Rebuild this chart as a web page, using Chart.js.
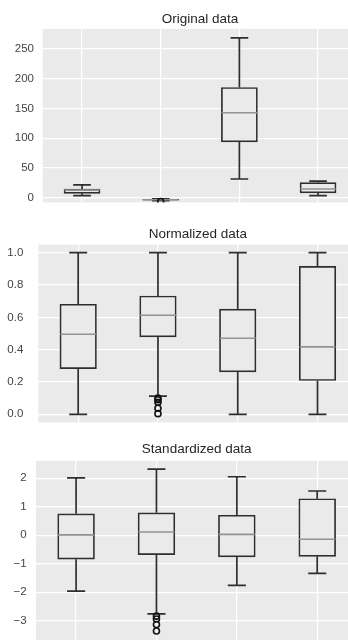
<!DOCTYPE html>
<html>
<head>
<meta charset="utf-8">
<script src="https://cdn.jsdelivr.net/npm/chart.js@4/dist/chart.umd.min.js"></script>
<style>
  html, body { margin: 0; padding: 0; background: #fff; overflow: hidden; }
  #wrap { position: relative; width: 348px; height: 640px; overflow: hidden; }
  #wrap canvas { position: absolute; left: 0; }
</style>
</head>
<body>
<div id="wrap">
  <canvas id="c1" width="363" height="208" style="top:0px"></canvas>
  <canvas id="c2" width="363" height="213" style="top:215px"></canvas>
  <canvas id="c3" width="363" height="221" style="top:425px"></canvas>
</div>
<script>
// ---- data ----
const positions = [1, 2, 3, 4];

const titles = ['Original data', 'Normalized data', 'Standardized data'];

// Original data
const origLow    = [3.8, -4.6, 31.5, 3.8];
const origQ1     = [7.5, -3.9, 93.6, 8.2];
const origMedian = [13.0, -3.2, 142.5, 14.7];
const origQ3     = [14.7, -2.6, 185.0, 25.5];
const origHigh   = [21.7, -1.8, 268.0, 27.8];
const origOutliers = [[], [-6.2], [], []];
const origTicks  = [0, 50, 100, 150, 200, 250];
const origTickLabels = ['0', '50', '100', '150', '200', '250'];

// Normalized data
const normLow    = [0.0, 0.113, 0.0, 0.0];
const normQ1     = [0.283, 0.479, 0.263, 0.209];
const normMedian = [0.495, 0.613, 0.471, 0.417];
const normQ3     = [0.681, 0.732, 0.651, 0.916];
const normHigh   = [1.0, 1.0, 1.0, 1.0];
const normOutliers = [[], [0.100, 0.090, 0.075, 0.038, 0.004], [], []];
const normTicks  = [0, 0.2, 0.4, 0.6, 0.8, 1.0];
const normTickLabels = ['0.0', '0.2', '0.4', '0.6', '0.8', '1.0'];

// Standardized data
const stdLow    = [-1.96, -2.76, -1.76, -1.34];
const stdQ1     = [-0.84, -0.68, -0.76, -0.74];
const stdMedian = [0.01, 0.11, 0.03, -0.14];
const stdQ3     = [0.75, 0.785, 0.70, 1.28];
const stdHigh   = [2.01, 2.32, 2.05, 1.55];
const stdOutliers = [[], [-2.84, -2.94, -3.13, -3.36], [], []];
const stdTicks  = [-3, -2, -1, 0, 1, 2];
const stdTickLabels = ['\u22123', '\u22122', '\u22121', '0', '1', '2'];

// ---- styling ----
const FONT = '"Liberation Sans", Arial, Helvetica, sans-serif';
const BOX_COLOR = '#2e2e2e';
const MEDIAN_COLOR = '#929292';
const BG = '#EAEAEA';

const bgPlugin = {
  id: 'plotBg',
  beforeDraw(chart) {
    const a = chart.chartArea, ctx = chart.ctx;
    ctx.save();
    ctx.fillStyle = BG;
    ctx.fillRect(a.left, a.top, a.right - a.left, a.bottom - a.top);
    ctx.restore();
  }
};

function makePanel(canvasId, spec) {
  const boxHalf = 0.225, capHalf = 0.1125;
  const boxData = positions.map((p, i) => ({ x: p, y: [spec.q1[i], spec.q3[i]] }));
  const whiskerData = [];
  const medianData = [];
  const outlierData = [];
  positions.forEach((p, i) => {
    whiskerData.push({ x: p, y: spec.low[i] }, { x: p, y: spec.q1[i] }, { x: p, y: null });
    whiskerData.push({ x: p, y: spec.q3[i] }, { x: p, y: spec.high[i] }, { x: p, y: null });
    whiskerData.push({ x: p - capHalf, y: spec.low[i] }, { x: p + capHalf, y: spec.low[i] }, { x: p, y: null });
    whiskerData.push({ x: p - capHalf, y: spec.high[i] }, { x: p + capHalf, y: spec.high[i] }, { x: p, y: null });
    medianData.push({ x: p - boxHalf, y: spec.median[i] }, { x: p + boxHalf, y: spec.median[i] }, { x: p, y: null });
    spec.outliers[i].forEach(v => outlierData.push({ x: p, y: v }));
  });

  const spacing = (363 - spec.left) / 4;

  return new Chart(document.getElementById(canvasId), {
    type: 'bar',
    data: {
      datasets: [
        {
          type: 'line', data: whiskerData, borderColor: BOX_COLOR, borderWidth: 1.7,
          pointRadius: 0, spanGaps: false, fill: false, order: 3
        },
        {
          type: 'bar', data: boxData, backgroundColor: BG, borderColor: BOX_COLOR,
          borderWidth: 1.7, borderSkipped: false, barThickness: spacing * 0.45, order: 2
        },
        {
          type: 'line', data: medianData, borderColor: MEDIAN_COLOR, borderWidth: 1.6,
          pointRadius: 0, spanGaps: false, fill: false, order: 1
        },
        {
          type: 'scatter', data: outlierData, pointStyle: 'circle', pointRadius: 3,
          pointBorderWidth: 1.6, pointBorderColor: '#111', pointBackgroundColor: 'rgba(0,0,0,0)', order: 0
        }
      ]
    },
    options: {
      responsive: false,
      animation: false,
      events: [],
      layout: { padding: { left: 0, right: 0, top: 0, bottom: spec.padBottom } },
      plugins: {
        legend: { display: false },
        tooltip: { enabled: false },
        title: {
          display: true, text: spec.title, fullSize: false, color: '#262626',
          font: { family: FONT, size: 13.5, weight: 'normal', lineHeight: 1.2 },
          padding: { top: spec.titleTop, bottom: spec.titleBottom }
        }
      },
      scales: {
        x: {
          type: 'linear', min: 0.5, max: 4.5, offset: false,
          grid: { color: '#ffffff', lineWidth: 1.2, drawTicks: false, offset: false },
          border: { display: false },
          ticks: { display: false },
          afterBuildTicks: s => { s.ticks = positions.map(v => ({ value: v })); },
          afterFit: s => { s.height = 0; s.paddingLeft = 0; s.paddingRight = 0; }
        },
        y: {
          type: 'linear', min: spec.min, max: spec.max,
          grid: { color: '#ffffff', lineWidth: 1.2, drawTicks: false },
          border: { display: false },
          ticks: {
            color: '#444444', padding: spec.tickPad,
            font: { family: FONT, size: 11.5 },
            callback: v => {
              const k = spec.ticks.findIndex(t => Math.abs(t - v) < 1e-9);
              return k >= 0 ? spec.tickLabels[k] : '';
            }
          },
          afterBuildTicks: s => { s.ticks = spec.ticks.map(v => ({ value: v })); },
          afterFit: s => { s.width = spec.left; s.paddingTop = 0; s.paddingBottom = 0; }
        }
      }
    },
    plugins: [bgPlugin]
  });
}

makePanel('c1', {
  title: titles[0], low: origLow, q1: origQ1, median: origMedian, q3: origQ3, high: origHigh,
  outliers: origOutliers, ticks: origTicks, tickLabels: origTickLabels,
  min: -7.7, max: 283, left: 42.7, tickPad: 8.7, titleTop: 11.4, titleBottom: 1.4, padBottom: 1
});
makePanel('c2', {
  title: titles[1], low: normLow, q1: normQ1, median: normMedian, q3: normQ3, high: normHigh,
  outliers: normOutliers, ticks: normTicks, tickLabels: normTickLabels,
  min: -0.05, max: 1.05, left: 38.3, tickPad: 15, titleTop: 10.9, titleBottom: 2.5, padBottom: 0.7
});
makePanel('c3', {
  title: titles[2], low: stdLow, q1: stdQ1, median: stdMedian, q3: stdQ3, high: stdHigh,
  outliers: stdOutliers, ticks: stdTicks, tickLabels: stdTickLabels,
  min: -3.69, max: 2.61, left: 35.9, tickPad: 9.2, titleTop: 15.9, titleBottom: 3.7, padBottom: 0.6
});
</script>
</body>
</html>
